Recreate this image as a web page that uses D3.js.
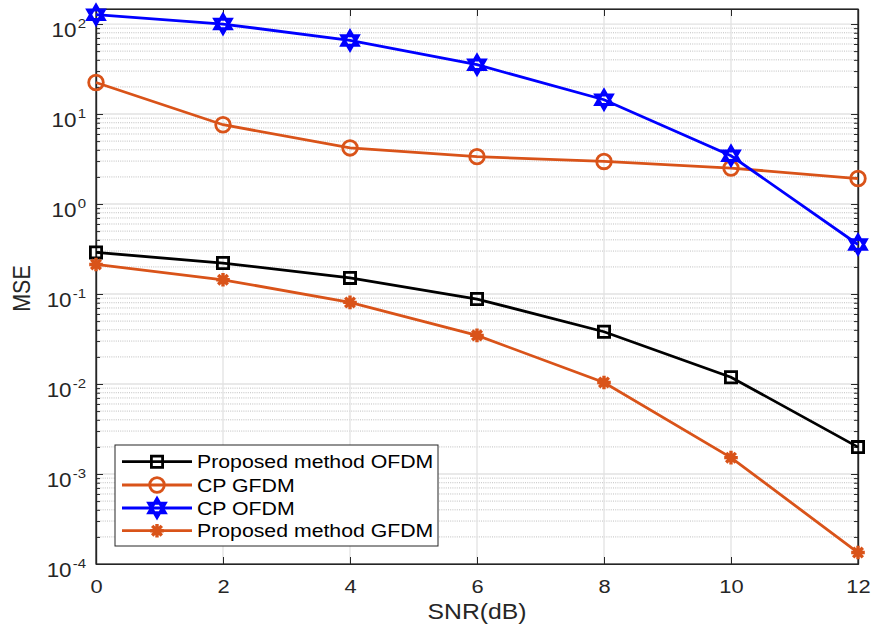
<!DOCTYPE html>
<html><head><meta charset="utf-8">
<script src="https://cdn.jsdelivr.net/npm/d3@7/dist/d3.min.js"></script>
<style>body{margin:0;background:#fff;} text{font-family:"Liberation Sans",Arial,Helvetica,sans-serif;}</style>
</head><body>
<svg id="chart" width="872" height="630"></svg>
<script>
const snr = [0, 2, 4, 6, 8, 10, 12];
const seriesNames = ["Proposed method OFDM", "CP GFDM", "CP OFDM", "Proposed method GFDM"];
const proposedOFDM = [0.29, 0.221, 0.151, 0.0879, 0.0381, 0.0119, 0.00199];
const cpGFDM = [22.4, 7.6, 4.2, 3.36, 2.97, 2.51, 1.92];
const cpOFDM = [127, 100, 65.8, 35.3, 14.4, 3.44, 0.355];
const proposedGFDM = [0.213, 0.144, 0.0807, 0.0347, 0.0104, 0.00152, 0.000134];
const xTicks = [0, 2, 4, 6, 8, 10, 12];
const yTickExps = [-4, -3, -2, -1, 0, 1, 2];
const yDomain = [1e-4, Math.pow(10, 2.167)];

const colors = ["#000000", "#D95319", "#0000FF", "#D95319"];
const markers = ["square", "circle", "hexagram", "asterisk"];
const allSeries = [proposedOFDM, cpGFDM, cpOFDM, proposedGFDM];

const SX = 1.15; // horizontal glyph stretch
const svg = d3.select("#chart");
const L = 96, R = 858, T = 9, B = 564;
const x = d3.scaleLinear().domain([0, 12]).range([L, R]);
const y = d3.scaleLog().domain(yDomain).range([B, T]);

const minors = [];
for (let e = -4; e <= 2; e++) for (let k = 2; k <= 9; k++) { const v = k * Math.pow(10, e); if (v < yDomain[1]) minors.push(v); }
const majors = yTickExps.map(e => Math.pow(10, e));

const g = svg.append("g");
g.selectAll(".mg").data(minors).enter().append("line")
  .attr("x1", L).attr("x2", R).attr("y1", d => y(d)).attr("y2", d => y(d))
  .attr("stroke", "#b8b8b8").attr("stroke-width", 0.9).attr("stroke-dasharray", "1,1.2");
g.selectAll(".Mg").data(majors).enter().append("line")
  .attr("x1", L).attr("x2", R).attr("y1", d => y(d)).attr("y2", d => y(d))
  .attr("stroke", "#e2e2e2").attr("stroke-width", 1.3);
g.selectAll(".xg").data(xTicks).enter().append("line")
  .attr("y1", T).attr("y2", B).attr("x1", d => x(d)).attr("x2", d => x(d))
  .attr("stroke", "#e2e2e2").attr("stroke-width", 1.3);

const axCol = "#262626";
const xAxis = d3.axisBottom(x).tickValues(xTicks).tickSizeInner(-7).tickSizeOuter(0).tickPadding(0).tickFormat(d3.format("d"));
const gx = svg.append("g").attr("transform", `translate(0,${B})`).call(xAxis);
const xTop = d3.axisTop(x).tickValues(xTicks).tickSizeInner(-7).tickSizeOuter(0).tickFormat("");
svg.append("g").attr("transform", `translate(0,${T})`).call(xTop);
const yAxis = d3.axisLeft(y).tickValues(majors).tickSizeInner(-7).tickSizeOuter(0).tickFormat("");
const gy = svg.append("g").attr("transform", `translate(${L},0)`).call(yAxis);
const yRight = d3.axisRight(y).tickValues(majors).tickSizeInner(-7).tickSizeOuter(0).tickFormat("");
svg.append("g").attr("transform", `translate(${R},0)`).call(yRight);
const yMinL = d3.axisLeft(y).tickValues(minors).tickSizeInner(-4).tickSizeOuter(0).tickFormat("");
svg.append("g").attr("transform", `translate(${L},0)`).call(yMinL);
const yMinR = d3.axisRight(y).tickValues(minors).tickSizeInner(-4).tickSizeOuter(0).tickFormat("");
svg.append("g").attr("transform", `translate(${R},0)`).call(yMinR);
svg.selectAll(".domain").attr("stroke", axCol).attr("stroke-width", 1.2);
svg.selectAll(".tick line").attr("stroke", axCol).attr("stroke-width", 1);
gx.selectAll("text").attr("font-size", 19).attr("fill", "#262626")
  .attr("font-family", "Liberation Sans, Arial, sans-serif")
  .attr("y", 0).attr("dy", 0)
  .attr("transform", `translate(0,29) scale(${SX},1)`);

gy.selectAll(".tick").each(function(d) {
  const e = Math.round(Math.log10(d));
  const t = d3.select(this).append("text")
    .attr("transform", `translate(-10,12) scale(${SX},1)`)
    .attr("text-anchor", "end").attr("fill", "#262626").attr("font-size", 19.5)
    .attr("font-family", "Liberation Sans, Arial, sans-serif");
  t.append("tspan").text("10");
  t.append("tspan").attr("font-size", 13).attr("dy", -9).attr("dx", 1).text(String(e));
});
svg.append("rect").attr("x", L).attr("y", T).attr("width", R - L).attr("height", B - T)
  .attr("fill", "none").attr("stroke", axCol).attr("stroke-width", 1.2);

svg.append("text").attr("transform", `translate(${(L + R) / 2},619) scale(${SX},1)`).attr("text-anchor", "middle")
  .attr("font-size", 21.5).attr("fill", "#262626").text("SNR(dB)");
svg.append("text").attr("transform", `translate(30,${(T + B) / 2 + 2}) rotate(-90) scale(1,${SX})`).attr("text-anchor", "middle")
  .attr("font-size", 21.5).attr("fill", "#262626").text("MSE");

function markerPath(type, s) {
  if (type === "square") return `M${-s},${-s}H${s}V${s}H${-s}Z`;
  if (type === "circle") return d3.symbol().type(d3.symbolCircle).size(Math.PI * s * s)();
  if (type === "hexagram") {
    const r = s;
    const tri = a0 => [0, 1, 2].map(i => { const a = a0 + i * 2 * Math.PI / 3; return [r * Math.sin(a), -r * Math.cos(a)]; });
    const t1 = tri(0), t2 = tri(Math.PI);
    return "M" + t1.map(p => p.join(",")).join("L") + "Z" + "M" + t2.map(p => p.join(",")).join("L") + "Z";
  }
  if (type === "asterisk") {
    let p = "";
    for (let i = 0; i < 4; i++) { const a = i * Math.PI / 4; p += `M${-s * Math.cos(a)},${-s * Math.sin(a)}L${s * Math.cos(a)},${s * Math.sin(a)}`; }
    return p;
  }
}
function drawMarker(sel, type, color) {
  if (type === "square") sel.append("path").attr("d", markerPath("square", 5.6)).attr("fill", "none").attr("stroke", color).attr("stroke-width", 2.8);
  else if (type === "circle") sel.append("path").attr("d", markerPath("circle", 7.3)).attr("fill", "none").attr("stroke", color).attr("stroke-width", 2.8);
  else if (type === "hexagram") sel.append("path").attr("d", markerPath("hexagram", 9.5)).attr("fill", "none").attr("stroke", color).attr("stroke-width", 3);
  else if (type === "asterisk") sel.append("path").attr("d", markerPath("asterisk", 6.8)).attr("fill", "none").attr("stroke", color).attr("stroke-width", 3.4);
}

const line = d3.line().x((d, i) => x(snr[i])).y(d => y(d));
allSeries.forEach((vals, si) => {
  const sg = svg.append("g");
  sg.append("path").datum(vals).attr("d", line).attr("fill", "none").attr("stroke", colors[si]).attr("stroke-width", 2.8);
  vals.forEach((v, i) => {
    const mg = sg.append("g").attr("transform", `translate(${x(snr[i])},${y(v)})`);
    drawMarker(mg, markers[si], colors[si]);
  });
});

const lg = svg.append("g");
lg.append("rect").attr("x", 115).attr("y", 445).attr("width", 323).attr("height", 101)
  .attr("fill", "#fff").attr("stroke", "#262626").attr("stroke-width", 1);
const ly = [461.7, 485, 508, 530.7];
seriesNames.forEach((n, i) => {
  lg.append("line").attr("x1", 122).attr("x2", 192).attr("y1", ly[i]).attr("y2", ly[i])
    .attr("stroke", colors[i]).attr("stroke-width", 2.8);
  const mg = lg.append("g").attr("transform", `translate(157,${ly[i]})`);
  drawMarker(mg, markers[i], colors[i]);
  lg.append("text").attr("transform", `translate(197,${ly[i] + 6.6}) scale(${SX},1)`).attr("font-size", 18.5)
    .attr("fill", "#000").text(n);
});
</script>
</body></html>
